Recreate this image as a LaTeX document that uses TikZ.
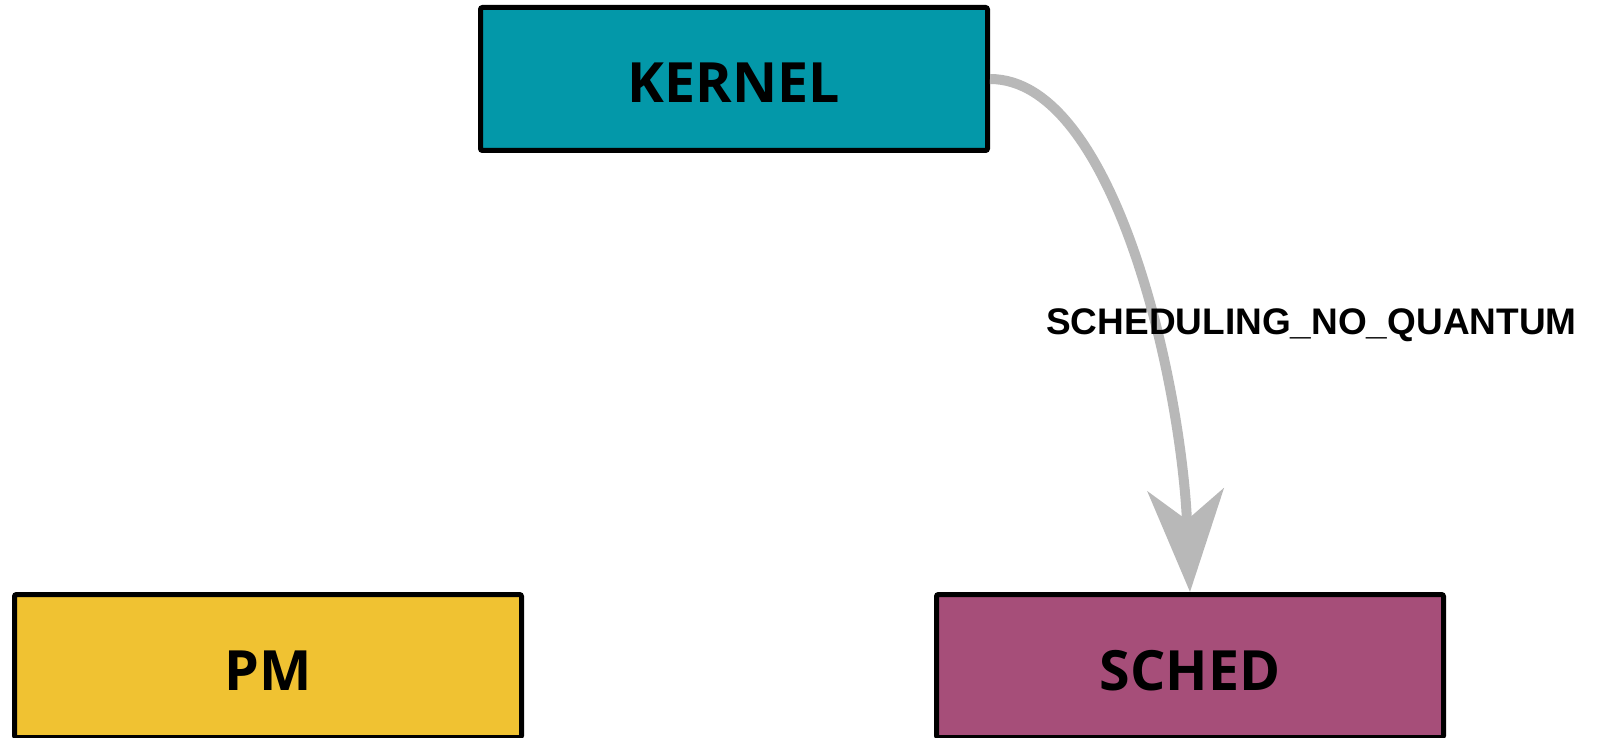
\documentclass[tikz,border=0pt]{standalone}
\usepackage{fontspec}
\setmainfont{Open Sans}
\newfontfamily\labelfont{Liberation Sans}
\usetikzlibrary{positioning,arrows.meta}

\definecolor{kernelteal}{HTML}{0398A9}
\definecolor{pmyellow}{HTML}{F0C232}
\definecolor{schedplum}{HTML}{A64E79}
\definecolor{msggray}{HTML}{B8B8B8}

\begin{document}
\begin{tikzpicture}[
  x=1pt, y=-1pt,
  box/.style={minimum width=507pt, minimum height=143pt, inner sep=0pt, draw,
    line width=5pt, rounded corners=2pt, text height=48pt, text depth=0pt,
    font=\fontsize{55.5}{55.5}\selectfont\bfseries},
  msg/.style={draw=msggray, line width=10pt,
    -{Stealth[length=102pt, width=76pt, inset=30pt]}},
  >={Latex}
]
  \useasboundingbox (0,0) rectangle (1599,738);

  \node[box, fill=kernelteal] (kernel) at (734,79) {KERNEL};
  \node[box, fill=pmyellow] (pm) at (268,666) {PM};
  \node[box, fill=schedplum] (sched) at (1190,666) {SCHED};

  \draw[msg] (kernel.east) .. controls +(124,0) and +(-9,-211) .. (sched.north)
    node[pos=0.6, xshift=160pt, yshift=-5pt, text=black,
      font=\labelfont\fontsize{37}{37}\selectfont\bfseries]
    {SCHEDULING\_NO\_QUANTUM};

\end{tikzpicture}
\end{document}
